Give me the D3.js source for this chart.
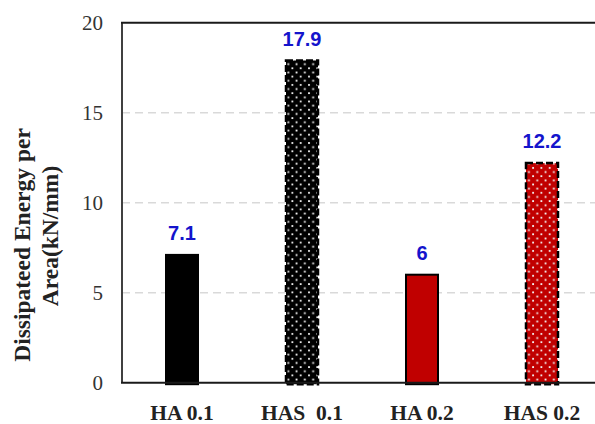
<!DOCTYPE html>
<html>
<head>
<meta charset="utf-8">
<script src="https://cdn.jsdelivr.net/npm/d3@7/dist/d3.min.js"></script>
<style>
  html, body { margin: 0; padding: 0; background: #fff; }
  svg { display: block; }
</style>
</head>
<body>
<div id="chart"></div>
<script>
// Dissipated energy per area for each specimen
const categories = ["HA 0.1", "HAS  0.1", "HA 0.2", "HAS 0.2"];
const values = [7.1, 17.9, 6, 12.2];
const fills = ["black", "blackDots", "red", "redDots"];
const yTicks = [0, 5, 10, 15, 20];
const yTitle = ["Dissipateed Energy per", "Area(kN/mm)"];

const W = 595, H = 424;
const plot = { left: 122, top: 22.7, right: 602, bottom: 382.7 };

const svg = d3.select("#chart").append("svg")
  .attr("width", W).attr("height", H);

// Dotted fill patterns (staggered white dots)
const defs = svg.append("defs");
[["blackDots", "#000000"], ["redDots", "#C00000"]].forEach(([id, bg]) => {
  const p = defs.append("pattern").attr("id", id)
    .attr("patternUnits", "userSpaceOnUse")
    .attr("width", 8.3).attr("height", 8.3);
  p.append("rect").attr("width", 8.3).attr("height", 8.3).attr("fill", bg);
  p.append("rect").attr("x", 1).attr("y", 1).attr("width", 1.8).attr("height", 1.8).attr("fill", "#f2f2f2");
  p.append("rect").attr("x", 5.15).attr("y", 5.15).attr("width", 1.8).attr("height", 1.8).attr("fill", "#f2f2f2");
});

const x = d3.scaleBand()
  .domain(categories)
  .range([plot.left, plot.right])
  .paddingInner(0.7333)
  .paddingOuter(0.3667);

const y = d3.scaleLinear().domain([0, 20]).range([plot.bottom, plot.top]);

// Horizontal dashed gridlines
svg.append("g")
  .selectAll("line")
  .data(yTicks.filter(t => t > 0 && t < 20))
  .join("line")
  .attr("x1", plot.left).attr("x2", W)
  .attr("y1", d => y(d)).attr("y2", d => y(d))
  .attr("stroke", "#d9d9d9").attr("stroke-width", 1.5)
  .attr("stroke-dasharray", "8,5");

// Plot frame: left, top
svg.append("line")
  .attr("x1", plot.left).attr("x2", plot.left)
  .attr("y1", plot.top).attr("y2", plot.bottom)
  .attr("stroke", "#404040").attr("stroke-width", 2);
svg.append("line")
  .attr("x1", plot.left - 1).attr("x2", W)
  .attr("y1", plot.top).attr("y2", plot.top)
  .attr("stroke", "#1a1a1a").attr("stroke-width", 2);

// Y axis tick labels
const yAxis = d3.axisLeft(y).tickValues(yTicks).tickSize(0).tickPadding(19);
const gy = svg.append("g").attr("transform", `translate(${plot.left},0)`).call(yAxis);
gy.select(".domain").remove();
gy.selectAll("text")
  .attr("font-family", "'Liberation Serif', serif")
  .attr("font-size", 21)
  .attr("fill", "#333")
  .attr("dy", "0.33em");

// Bars
const bars = svg.append("g");
categories.forEach((c, i) => {
  const f = fills[i];
  const dotted = f.endsWith("Dots");
  const fill = f === "black" ? "#000" : f === "red" ? "#C00000" : `url(#${f})`;
  bars.append("rect")
    .attr("x", x(c)).attr("width", x.bandwidth())
    .attr("y", y(values[i])).attr("height", y(0) - y(values[i]) + 1.5)
    .attr("fill", fill)
    .attr("stroke", "#000")
    .attr("stroke-width", dotted ? 2.5 : 2)
    .attr("stroke-dasharray", dotted ? "7,3" : null);
});

// Bottom axis line
svg.append("line")
  .attr("x1", plot.left - 1).attr("x2", W)
  .attr("y1", plot.bottom).attr("y2", plot.bottom)
  .attr("stroke", "#1a1a1a").attr("stroke-width", 2);

// Value labels
svg.append("g")
  .selectAll("text")
  .data(categories)
  .join("text")
  .attr("x", d => x(d) + x.bandwidth() / 2)
  .attr("y", (d, i) => y(values[i]) - 15)
  .attr("text-anchor", "middle")
  .attr("font-family", "'Liberation Sans', Arial, sans-serif")
  .attr("font-weight", "bold")
  .attr("font-size", 20)
  .attr("fill", "#1414CC")
  .text((d, i) => values[i]);

// Category labels
svg.append("g")
  .selectAll("text")
  .data(categories)
  .join("text")
  .attr("x", d => x(d) + x.bandwidth() / 2)
  .attr("y", 420)
  .attr("text-anchor", "middle")
  .attr("font-family", "'Liberation Serif', serif")
  .attr("font-weight", "bold")
  .attr("font-size", 21.5)
  .attr("fill", "#222")
  .style("white-space", "pre")
  .attr("xml:space", "preserve")
  .text(d => d);

// Y axis title (two lines, rotated)
const title = svg.append("g");
title.append("text")
  .attr("transform", "translate(30,245) rotate(-90)")
  .attr("text-anchor", "middle")
  .attr("font-family", "'Liberation Serif', serif")
  .attr("font-weight", "bold")
  .attr("font-size", 23.5)
  .attr("fill", "#222")
  .text(yTitle[0]);
title.append("text")
  .attr("transform", "translate(58,236) rotate(-90)")
  .attr("text-anchor", "middle")
  .attr("font-family", "'Liberation Serif', serif")
  .attr("font-weight", "bold")
  .attr("font-size", 23.5)
  .attr("fill", "#222")
  .text(yTitle[1]);
</script>
</body>
</html>
